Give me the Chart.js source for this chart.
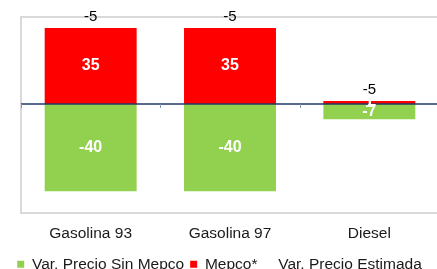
<!DOCTYPE html>
<html>
<head>
<meta charset="utf-8">
<script src="https://cdn.jsdelivr.net/npm/chart.js@4.4.0/dist/chart.umd.min.js"></script>
<style>
  html, body { margin: 0; padding: 0; overflow: hidden; background: #fff; }
  canvas { display: block; }
</style>
</head>
<body>
<canvas id="chart" width="439" height="282" style="width:439px;height:282px"></canvas>
<script>
const CATEGORIES = ['Gasolina 93', 'Gasolina 97', 'Diesel'];
const SIN_MEPCO  = [-40, -40, -7];
const MEPCO      = [35, 35, 1.4];
const ESTIMADA   = [-5, -5, -5];
const Y_MIN = -50, Y_MAX = 40;

const FONT = "'Liberation Sans', Arial, sans-serif";

// border, zero line, tick marks and value labels
const decor = {
  id: 'decor',
  beforeDatasetsDraw(chart) {
    const { ctx, chartArea: a } = chart;
    ctx.save();
    ctx.strokeStyle = '#d9d9d9';
    ctx.lineWidth = 2;
    ctx.beginPath();
    ctx.moveTo(a.right + 10, a.top);
    ctx.lineTo(a.left, a.top);
    ctx.lineTo(a.left, a.bottom);
    ctx.lineTo(a.right + 10, a.bottom);
    ctx.stroke();
    ctx.restore();
  },
  afterDatasetsDraw(chart) {
    const { ctx, chartArea: a, scales: { x, y } } = chart;
    const y0 = y.getPixelForValue(0);
    ctx.save();
    ctx.strokeStyle = '#1f3864';
    ctx.lineWidth = 1.5;
    ctx.beginPath();
    ctx.moveTo(a.left, y0);
    ctx.lineTo(a.right + 10, y0);
    ctx.stroke();

    const step = (a.right - a.left) / CATEGORIES.length;
    ctx.strokeStyle = '#8497b0';
    ctx.lineWidth = 1;
    for (let i = 0; i <= CATEGORIES.length; i++) {
      const tx = Math.round(a.left + i * step) + 0.5;
      ctx.beginPath();
      ctx.moveTo(tx, y0);
      ctx.lineTo(tx, y0 + 4);
      ctx.stroke();
    }

    // labels inside bars
    ctx.textAlign = 'center';
    ctx.textBaseline = 'middle';
    ctx.fillStyle = '#fff';
    ctx.font = `bold 16px ${FONT}`;
    const tops = CATEGORIES.map(() => y0);
    chart.data.datasets.forEach((ds, di) => {
      if (ds.type === 'line') return;
      chart.getDatasetMeta(di).data.forEach((bar, i) => {
        const p = bar.getProps(['x', 'y', 'base'], true);
        tops[i] = Math.min(tops[i], p.y, p.base);
        ctx.fillText(String(Math.round(ds.data[i])), p.x, (p.y + p.base) / 2);
      });
    });

    // estimated variation above each stack
    ctx.fillStyle = '#000';
    ctx.font = `15px ${FONT}`;
    ESTIMADA.forEach((v, i) => {
      ctx.fillText(String(v), x.getPixelForValue(i), tops[i] - 11);
    });
    ctx.restore();
  }
};

new Chart(document.getElementById('chart'), {
  data: {
    labels: CATEGORIES,
    datasets: [
      { type: 'bar', label: 'Var. Precio Sin Mepco', data: SIN_MEPCO, backgroundColor: '#92d050', stack: 's' },
      { type: 'bar', label: 'Mepco*', data: MEPCO, backgroundColor: '#ff0000', stack: 's' },
      { type: 'line', label: 'Var. Precio Estimada', data: ESTIMADA, stack: 'est',
        showLine: false, pointRadius: 0, borderColor: 'rgba(0,0,0,0)', backgroundColor: 'rgba(0,0,0,0)' },
    ],
  },
  options: {
    responsive: false,
    animation: false,
    layout: { padding: { top: 17, left: 0, right: 0, bottom: 0 } },
    datasets: { bar: { categoryPercentage: 0.66, barPercentage: 1 } },
    plugins: {
      tooltip: { enabled: false },
      legend: {
        position: 'bottom',
        labels: {
          boxWidth: 7, boxHeight: 7, padding: 6,
          color: '#1a1a1a',
          font: { family: FONT, size: 15.5 },
        },
      },
    },
    scales: {
      x: {
        stacked: true,
        grid: { display: false },
        border: { display: false },
        ticks: { color: '#1a1a1a', font: { family: FONT, size: 15.5 }, padding: 4 },
        afterFit: s => { s.height += 3; },
      },
      y: {
        stacked: true,
        min: Y_MIN, max: Y_MAX,
        grid: { display: false },
        border: { display: false },
        ticks: { display: false },
        afterFit: s => { s.width = 21; },
      },
    },
  },
  plugins: [decor],
});
</script>
</body>
</html>
